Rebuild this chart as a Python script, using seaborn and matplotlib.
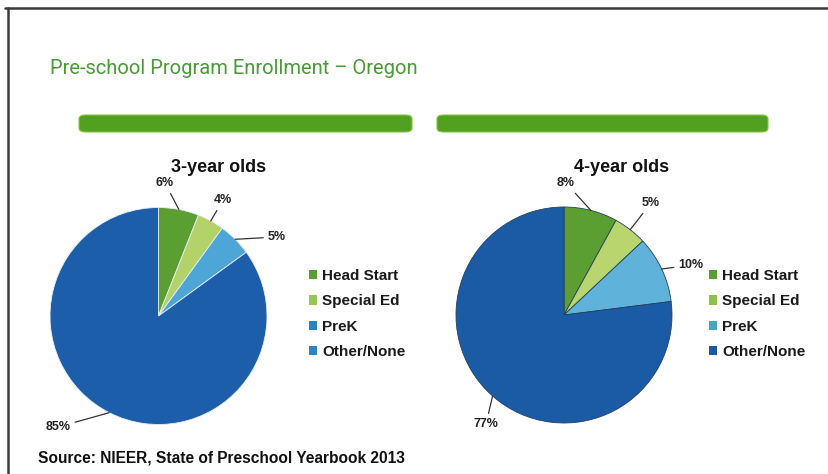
import numpy as np
import pandas as pd
import seaborn as sns
import matplotlib
matplotlib.use("Agg")
import matplotlib.pyplot as plt
from matplotlib.patches import FancyBboxPatch, Patch
from matplotlib.lines import Line2D

# ---------------- data ----------------
categories = ["Head Start", "Special Ed", "PreK", "Other/None"]
values_3yr = [6, 4, 5, 85]
values_4yr = [8, 5, 10, 77]
labels_3yr = ["6%", "4%", "5%", "85%"]
labels_4yr = ["8%", "5%", "10%", "77%"]
chart_title = "Pre-school Program Enrollment \u2013 Oregon"
subtitles = ["3-year olds", "4-year olds"]
source_text = "Source: NIEER, State of Preschool Yearbook 2013"

# ---------------- style ----------------
sns.set_theme(style="white")
plt.rcParams["font.family"] = ["Liberation Sans", "DejaVu Sans"]

colors_3 = ["#5b9f32", "#b3d26a", "#4ea6d6", "#1c5ea9"]
colors_4 = ["#5b9f32", "#b8d56e", "#5fb3da", "#1b5ba6"]
legend_cols_3 = ["#5a9e2e", "#96c654", "#2b80c2", "#2b84c4"]
legend_cols_4 = ["#5a9e2e", "#8cc14a", "#4aa2c8", "#1b5aa2"]

W, H = 829, 474
fig = plt.figure(figsize=(W / 100, H / 100), dpi=100)
fig.patch.set_facecolor("white")


def fx(x):
    return x / W


def fy(y):
    return 1 - y / H


# frame lines
fig.add_artist(Line2D([fx(5), fx(829)], [fy(8), fy(8)], color="#3a3a3a", lw=1.8))
fig.add_artist(Line2D([fx(8), fx(8)], [fy(8), fy(474)], color="#3a3a3a", lw=1.8))

# title
fig.text(fx(50), fy(69), chart_title, color="#4a9a38", fontsize=14.5,
         family=["Roboto", "Liberation Sans", "DejaVu Sans"],
         ha="left", va="center")

# green rounded bars
for x0, x1 in [(79, 412), (437, 768)]:
    bar = FancyBboxPatch((fx(x0), fy(132)), fx(x1) - fx(x0), fy(115) - fy(132),
                         boxstyle="round,pad=0,rounding_size=0.008",
                         transform=fig.transFigure, facecolor="#52a020",
                         edgecolor="#86c544", lw=0.8)
    fig.add_artist(bar)

pies = [
    dict(cx=158.5, cy=316, R=108.5, vals=values_3yr, labs=labels_3yr,
         cols=colors_3, lcols=legend_cols_3, edge="#e8eef5", sub=subtitles[0],
         subxy=(219, 167),
         textpos=[(165, 183), (223, 200), (277, 237), (58, 427)],
         legxy=(309, 269)),
    dict(cx=564, cy=315, R=108, vals=values_4yr, labs=labels_4yr,
         cols=colors_4, lcols=legend_cols_4, edge="#24405e", sub=subtitles[1],
         subxy=(622, 167),
         textpos=[(566, 183), (651, 203), (691, 265), (486, 424)],
         legxy=(709, 269)),
]

for p in pies:
    R = p["R"]
    span = 1.5
    ax = fig.add_axes([fx(p["cx"] - span * R), fy(p["cy"] + span * R),
                       2 * span * R / W, 2 * span * R / H])
    wedges, _ = ax.pie(p["vals"], colors=p["cols"], startangle=90,
                       counterclock=False,
                       wedgeprops=dict(linewidth=0.6, edgecolor=p["edge"]))
    ax.set_xlim(-span, span)
    ax.set_ylim(-span, span)
    ax.set_aspect("equal")
    ax.axis("off")

    # leader labels
    for w, lab, (tx, ty) in zip(wedges, p["labs"], p["textpos"]):
        mid = np.deg2rad((w.theta1 + w.theta2) / 2)
        ax.annotate(lab, xy=(np.cos(mid), np.sin(mid)), xycoords="data",
                    xytext=(fx(tx), fy(ty)), textcoords=fig.transFigure,
                    ha="center", va="center", fontsize=9, color="#222222",
                    fontweight="bold",
                    arrowprops=dict(arrowstyle="-", color="#333333", lw=0.9,
                                    shrinkA=1, shrinkB=0))

    fig.text(fx(p["subxy"][0]), fy(p["subxy"][1]), p["sub"], fontsize=13,
             fontweight="bold", ha="center", va="center", color="#111111")

    handles = [Patch(facecolor=c, edgecolor="none") for c in p["lcols"]]
    leg = fig.legend(handles, categories, loc="upper left",
                     bbox_to_anchor=(fx(p["legxy"][0]), fy(p["legxy"][1])),
                     bbox_transform=fig.transFigure, frameon=False,
                     prop=dict(size=11, weight="bold"),
                     handlelength=0.55, handleheight=0.55, handletextpad=0.3,
                     labelspacing=0.74, borderpad=0, borderaxespad=0,
                     labelcolor="#1a1a1a")

fig.text(fx(38), fy(458), source_text, fontsize=11.2, fontweight="bold",
         ha="left", va="center", color="#111111")

fig.savefig("out.png", dpi=100, facecolor="white")
